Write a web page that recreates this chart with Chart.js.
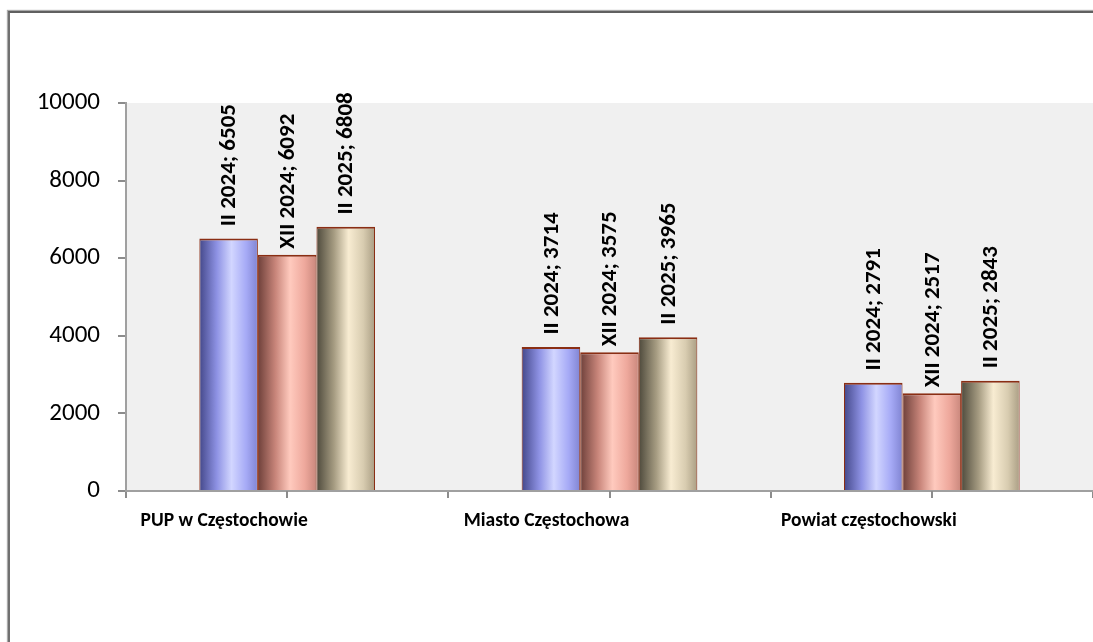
<!DOCTYPE html>
<html>
<head>
<meta charset="utf-8">
<script src="https://cdn.jsdelivr.net/npm/chart.js@4.4.1/dist/chart.umd.min.js"></script>
<style>
  html, body { margin: 0; padding: 0; background: #fff; overflow: hidden; }
  #frame { position: absolute; left: 8px; top: 11px; width: 1200px; height: 800px;
           border-left: 2px solid #707070; border-top: 2px solid #606060;
           box-shadow: -1px -1px 1px #aaa; }
  #wrap { position: absolute; left: 0; top: 0; width: 1093px; height: 642px; }
</style>
</head>
<body>
<div id="frame"></div>
<div id="wrap"><canvas id="mycanvas"></canvas></div>
<script>
var categories = ['PUP w Częstochowie', 'Miasto Częstochowa', 'Powiat częstochowski'];
var seriesNames = ['II 2024', 'XII 2024', 'II 2025'];
var valuesFeb2024 = [6505, 3714, 2791];
var valuesDec2024 = [6092, 3575, 2517];
var valuesFeb2025 = [6808, 3965, 2843];
var yTicks = [0, 2000, 4000, 6000, 8000, 10000];

// cylinder-like shading for each series
var shades = [
  ['#44488a', '#8e92e4', '#d2d6ff', '#a6aaf6', '#8084d2'],
  ['#6e403a', '#c8857a', '#ffcabe', '#eea89c', '#c9877c'],
  ['#4e4a3c', '#a69c82', '#f8ecd2', '#d8ccb0', '#aa9e84']
];

var labelFont = 'bold 23px Carlito, Lato, sans-serif';

var bgPlugin = {
  id: 'plotBg',
  beforeDraw: function(chart) {
    var a = chart.chartArea, ctx = chart.ctx;
    ctx.save();
    ctx.fillStyle = '#f0f0f0';
    ctx.fillRect(a.left, a.top, a.right - a.left, a.bottom - a.top);
    ctx.restore();
  }
};

var shadePlugin = {
  id: 'shade',
  beforeDatasetsDraw: function(chart) {
    var ctx = chart.ctx;
    chart.data.datasets.forEach(function(ds, di) {
      var meta = chart.getDatasetMeta(di);
      meta.data.forEach(function(bar) {
        var l = bar.x - bar.width / 2, r = bar.x + bar.width / 2;
        var g = ctx.createLinearGradient(l, 0, r, 0);
        var s = shades[di];
        g.addColorStop(0, s[0]);
        g.addColorStop(0.3, s[1]);
        g.addColorStop(0.55, s[2]);
        g.addColorStop(0.8, s[3]);
        g.addColorStop(1, s[4]);
        bar.options = Object.assign({}, bar.options, { backgroundColor: g });
      });
    });
  }
};

var labelPlugin = {
  id: 'barLabels',
  afterDatasetsDraw: function(chart) {
    var ctx = chart.ctx;
    ctx.save();
    ctx.font = labelFont;
    // labels sit centred in a box as long as the longest one
    var maxW = 0;
    chart.data.datasets.forEach(function(ds) {
      ds.data.forEach(function(v) {
        maxW = Math.max(maxW, ctx.measureText(ds.label + '; ' + v).width);
      });
    });
    chart.data.datasets.forEach(function(ds, di) {
      var meta = chart.getDatasetMeta(di);
      meta.data.forEach(function(bar, i) {
        var txt = ds.label + '; ' + ds.data[i];
        var w = ctx.measureText(txt).width;
        ctx.save();
        ctx.translate(bar.x, bar.y - 6 - (maxW - w) / 2);
        ctx.rotate(-Math.PI / 2);
        ctx.fillStyle = '#000';
        ctx.textAlign = 'left';
        ctx.textBaseline = 'middle';
        ctx.fillText(txt, 0, 1);
        ctx.restore();
      });
    });
    ctx.restore();
  }
};

var midTicks = {
  id: 'midTicks',
  afterDraw: function(chart) {
    var ctx = chart.ctx, x = chart.scales.x, a = chart.chartArea;
    ctx.save();
    ctx.strokeStyle = '#8c8c8c';
    ctx.lineWidth = 2;
    categories.forEach(function(c, i) {
      var px = Math.round(x.getPixelForValue(i));
      ctx.beginPath();
      ctx.moveTo(px, a.bottom);
      ctx.lineTo(px, a.bottom + 7);
      ctx.stroke();
    });
    ctx.restore();
  }
};

var chartdata = {
  labels: categories,
  datasets: [
    { label: seriesNames[0], data: valuesFeb2024 },
    { label: seriesNames[1], data: valuesDec2024 },
    { label: seriesNames[2], data: valuesFeb2025 }
  ].map(function(d) {
    d.backgroundColor = '#aaa';
    d.borderColor = '#8a2e14';
    d.borderWidth = { top: 2, left: 1, right: 1, bottom: 0 };
    d.borderSkipped = false;
    d.categoryPercentage = 0.545;
    d.barPercentage = 1.0;
    return d;
  })
};

var ctx = document.getElementById('mycanvas');
var barGraph = new Chart(ctx, {
  type: 'bar',
  data: chartdata,
  plugins: [bgPlugin, shadePlugin, labelPlugin, midTicks],
  options: {
    responsive: true,
    maintainAspectRatio: false,
    animation: false,
    layout: { padding: { top: 103, right: 0, left: 0, bottom: 0 } },
    plugins: { legend: { display: false }, tooltip: { enabled: false } },
    scales: {
      x: {
        afterFit: function(s) { s.height = 151; },
        grid: { drawOnChartArea: false, tickLength: 7, color: '#8c8c8c', lineWidth: 2 },
        border: { color: '#a0a0a0', width: 2 },
        ticks: {
          color: '#000',
          padding: 11,
          labelOffset: -63,
          maxRotation: 0,
          font: { family: 'Carlito, Lato, sans-serif', size: 19.5, weight: 'bold' }
        }
      },
      y: {
        min: 0,
        max: 10000,
        afterFit: function(s) { s.width = 126; },
        afterBuildTicks: function(s) { s.ticks = yTicks.map(function(v) { return { value: v }; }); },
        grid: { drawOnChartArea: false, tickLength: 8, color: '#8c8c8c', lineWidth: 2 },
        border: { color: '#a0a0a0', width: 2 },
        ticks: {
          color: '#000',
          padding: 18,
          callback: function(v) { return String(v); },
          font: { family: 'Carlito, Lato, sans-serif', size: 25 }
        }
      }
    }
  }
});
</script>
</body>
</html>
